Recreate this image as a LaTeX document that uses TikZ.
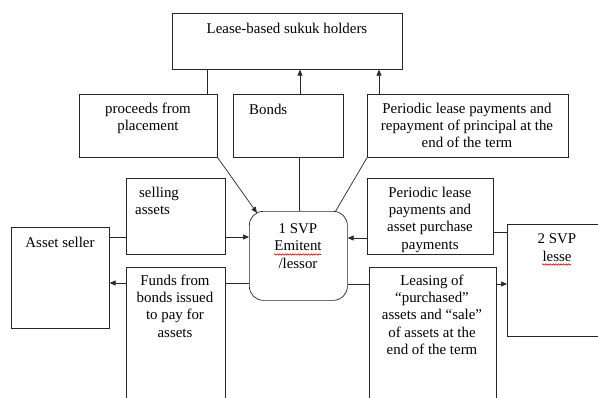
\documentclass[tikz,border=0pt]{standalone}
\usepackage{fontspec}
\setmainfont{Liberation Serif}
\usetikzlibrary{arrows.meta,decorations.pathmorphing}
\begin{document}
\begin{tikzpicture}[x=1pt,y=-1pt,
  box/.style={draw=black!85, line width=0.7pt, inner sep=0pt, anchor=north west},
  txt/.style={font=\fontsize{14.9}{17.4}\selectfont, inner sep=0pt, anchor=base, align=center},
  conn/.style={draw=black!85, line width=0.7pt},
  arr/.style={conn, -{Triangle[length=6pt,width=5pt]}},
  wavy/.style={draw=red!85!black, line width=0.6pt, decorate, decoration={snake, amplitude=0.7pt, segment length=2.6pt}}]
\useasboundingbox (0,0) rectangle (598,397);
\fill[white] (0,0) rectangle (598,397);
% boxes
\node[box, minimum width=230pt, minimum height=56pt] (top) at (172,13) {};
\node[box, minimum width=138pt, minimum height=63pt] (proc) at (79,94) {};
\node[box, minimum width=110pt, minimum height=63pt] (bonds) at (233,94) {};
\node[box, minimum width=201pt, minimum height=63pt] (pertop) at (367,94) {};
\node[box, minimum width=99pt, minimum height=76pt] (sell) at (126,178) {};
\node[box, minimum width=98pt, minimum height=101pt] (seller) at (11,227) {};
\node[box, minimum width=99pt, minimum height=140pt] (funds) at (126,267) {};
\node[box, rounded corners=14pt, minimum width=98pt, minimum height=89pt] (svp1) at (249,211) {};
\node[box, minimum width=126pt, minimum height=76pt] (perr) at (367,178) {};
\node[box, minimum width=105pt, minimum height=112pt] (svp2) at (507,224) {};
\node[box, minimum width=127pt, minimum height=140pt] (leas) at (369,267) {};
% texts (multi-line nodes: base = baseline of last line)
\node[txt] (ttop) at (287,33) {Lease-based sukuk holders};
\node[txt] (tproc) at (148,130.4) {proceeds from\\placement};
\node[txt, anchor=base west] (tbonds) at (249,114) {Bonds};
\node[txt] (tpertop) at (467,147.8) {Periodic lease payments and\\repayment of principal at the\\end of the term};
\node[txt, anchor=base west, align=left] (tsell) at (135,214.4) {\hspace{4pt}selling\\assets};
\node[txt] (tseller) at (60,247) {Asset seller};
\node[txt] (tfunds) at (175,337.2) {Funds from\\bonds issued\\to pay for\\assets};
\node[txt] (tsvp1) at (298,268) {1 SVP\\Emitent\\/lessor};
\begin{scope}
\clip (368,179) rectangle (492,252);
\node[txt] (tperr) at (430,249.2) {Periodic lease\\payments and\\asset purchase\\payments};
\end{scope}
\node[txt] (tsvp2) at (557,261) {2 SVP\\lesse};
\node[txt] (tleas) at (432,354.6) {Leasing of\\``purchased''\\assets and ``sale''\\of assets at the\\end of the term};
% spell-check marks
\draw[wavy] (274,254.5) -- (321,254.5);
\draw[wavy] (542,264.5) -- (571,264.5);
% connectors
\draw[conn] ([xshift=128pt]proc.north west) -- ([xshift=35pt]top.south west);
\draw[arr] ([xshift=67pt]bonds.north west) -- ([xshift=128pt]top.south west);
\draw[arr] ([xshift=12pt]pertop.north west) -- ([xshift=207pt]top.south west);
\draw[arr] (proc.south east) -- ([shift={(8pt,-2pt)}]svp1.north west);
\draw[conn] (pertop.south west) -- ([xshift=-12pt]svp1.north east);
\draw[conn] ([xshift=66pt]bonds.south west) -- ([xshift=50pt]svp1.north west);
\draw[conn] ([yshift=-10pt]seller.north east) -- ([yshift=-59pt]sell.north west);
\draw[arr] ([yshift=-59pt]sell.north east) -- ([yshift=-26pt]svp1.north west);
\draw[conn] ([yshift=-72pt]svp1.north west) -- ([yshift=-16pt]funds.north east);
\draw[arr] ([yshift=-16pt]funds.north west) -- ([yshift=-56pt]seller.north east);
\draw[arr] ([yshift=-60pt]perr.north west) -- ([yshift=-27pt]svp1.north east);
\draw[conn] ([yshift=-54pt]perr.north east) -- ([yshift=-8pt]svp2.north west);
\draw[conn] ([yshift=-73pt]svp1.north east) -- ([yshift=-17pt]leas.north west);
\draw[arr] ([yshift=-17pt]leas.north east) -- ([yshift=-60pt]svp2.north west);
\end{tikzpicture}
\end{document}
